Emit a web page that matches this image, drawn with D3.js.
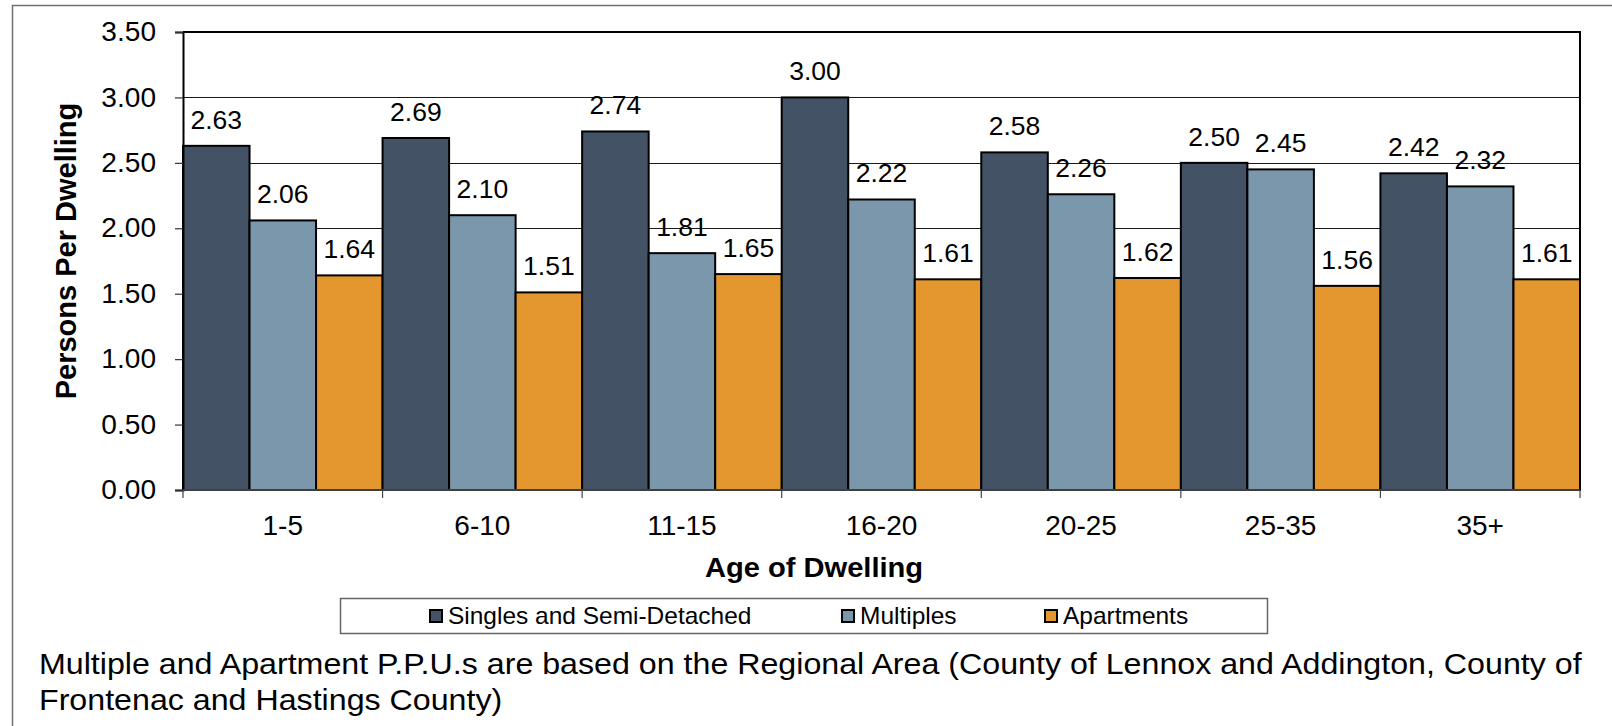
<!DOCTYPE html>
<html>
<head>
<meta charset="utf-8">
<script src="https://cdn.jsdelivr.net/npm/d3@7"></script>
<style>
  html, body { margin: 0; padding: 0; background: #fff; }
  svg { display: block; font-family: "Liberation Sans", Arial, sans-serif; }
</style>
</head>
<body>
<svg id="chart" width="1612" height="726"></svg>
<script>
// Persons per dwelling by age of dwelling and dwelling type
const categories = ["1-5", "6-10", "11-15", "16-20", "20-25", "25-35", "35+"];
const seriesNames = ["Singles and Semi-Detached", "Multiples", "Apartments"];
const singles    = [2.63, 2.69, 2.74, 3.00, 2.58, 2.50, 2.42];
const multiples  = [2.06, 2.10, 1.81, 2.22, 2.26, 2.45, 2.32];
const apartments = [1.64, 1.51, 1.65, 1.61, 1.62, 1.56, 1.61];
const yTicks = [0, 0.5, 1, 1.5, 2, 2.5, 3, 3.5];
const colors = ["#435365", "#7b97ab", "#e3972e"];
const caption = [
  "Multiple and Apartment P.P.U.s are based on the Regional Area (County of Lennox and Addington, County of",
  "Frontenac and Hastings County)"
];

const seriesValues = [singles, multiples, apartments];
const svg = d3.select("#chart");

const plot = { left: 183, right: 1580, top: 32, bottom: 490 };

const x0 = d3.scaleBand().domain(categories).range([plot.left, plot.right]).padding(0);
const x1 = d3.scaleBand().domain(seriesNames).range([0, x0.bandwidth()]).padding(0);
const y = d3.scaleLinear().domain([0, 3.5]).range([plot.bottom, plot.top]);

// outer frame
svg.append("path")
  .attr("d", `M12.5,726 V5.5 H1612`)
  .attr("fill", "none").attr("stroke", "#6f6f6f").attr("stroke-width", 1.5);

// horizontal gridlines
svg.append("g").selectAll("line")
  .data(yTicks.filter(t => t > 0 && t < 3.5))
  .join("line")
  .attr("x1", plot.left).attr("x2", plot.right)
  .attr("y1", d => Math.round(y(d)) + 0.5).attr("y2", d => Math.round(y(d)) + 0.5)
  .attr("stroke", "#1a1a1a").attr("stroke-width", 1);

// bars
const groups = svg.append("g").selectAll("g")
  .data(categories)
  .join("g")
  .attr("transform", d => `translate(${x0(d)},0)`);

const cells = (c, i) => seriesNames.map((s, k) => ({ s, k, v: seriesValues[k][i] }));

groups.selectAll("rect")
  .data(cells)
  .join("rect")
  .attr("x", d => x1(d.s))
  .attr("width", x1.bandwidth())
  .attr("y", d => y(d.v))
  .attr("height", d => y(0) - y(d.v))
  .attr("fill", d => colors[d.k])
  .attr("stroke", "#000").attr("stroke-width", 2);

// value labels
groups.selectAll("text")
  .data(cells)
  .join("text")
  .attr("x", d => x1(d.s) + x1.bandwidth() / 2)
  .attr("y", d => y(d.v) - 17)
  .attr("text-anchor", "middle")
  .attr("font-size", 26.5)
  .attr("fill", "#000")
  .text(d => d3.format(".2f")(d.v));

// plot frame: top and right edges
svg.append("path")
  .attr("d", `M${plot.left},${plot.top} H${plot.right} V${plot.bottom}`)
  .attr("fill", "none").attr("stroke", "#000").attr("stroke-width", 2);

// y axis
const yAxis = svg.append("g")
  .attr("transform", `translate(${plot.left},0)`)
  .call(d3.axisLeft(y).tickValues(yTicks).tickFormat(d3.format(".2f")).tickSize(8).tickPadding(19));
yAxis.select(".domain").attr("stroke", "#000").attr("stroke-width", 2);
yAxis.selectAll(".tick line").attr("stroke", "#333").attr("stroke-width", 1.2);
yAxis.selectAll(".tick text")
  .attr("x", 0)
  .attr("transform", "translate(-27,0) scale(1.04,1)")
  .attr("font-size", 27).attr("fill", "#000")
  .attr("font-family", "Liberation Sans, Arial, sans-serif");

// x axis with ticks on category boundaries
const xAxis = svg.append("g").attr("transform", `translate(0,${plot.bottom})`);
xAxis.append("line")
  .attr("x1", plot.left).attr("x2", plot.right)
  .attr("stroke", "#555").attr("stroke-width", 1.5);
const boundaries = categories.map(c => x0(c)).concat([x0(categories[categories.length - 1]) + x0.bandwidth()]);
xAxis.selectAll("line.tick")
  .data(boundaries)
  .join("line").attr("class", "tick")
  .attr("x1", d => d).attr("x2", d => d)
  .attr("y1", 0).attr("y2", 8)
  .attr("stroke", "#444").attr("stroke-width", 1.2);
xAxis.selectAll("text")
  .data(categories)
  .join("text")
  .attr("x", d => x0(d) + x0.bandwidth() / 2)
  .attr("y", 45)
  .attr("text-anchor", "middle")
  .attr("font-size", 28).attr("fill", "#000")
  .text(d => d);

// axis titles
svg.append("text")
  .attr("transform", "translate(814,577) scale(1.04,1)")
  .attr("text-anchor", "middle")
  .attr("font-size", 28).attr("font-weight", "bold")
  .text("Age of Dwelling");

svg.append("text")
  .attr("transform", "translate(76,251) rotate(-90)")
  .attr("text-anchor", "middle")
  .attr("font-size", 29).attr("font-weight", "bold")
  .text("Persons Per Dwelling");

// legend
const legend = svg.append("g");
legend.append("rect")
  .attr("x", 340.5).attr("y", 598.5).attr("width", 927).attr("height", 35)
  .attr("fill", "#fff").attr("stroke", "#666").attr("stroke-width", 1.5);
const legendX = [430, 842, 1045];
const items = legend.selectAll("g.item")
  .data(seriesNames)
  .join("g").attr("class", "item")
  .attr("transform", (d, i) => `translate(${legendX[i]},0)`);
items.append("rect")
  .attr("x", 0).attr("y", 610).attr("width", 12).attr("height", 12)
  .attr("fill", (d, i) => colors[i]).attr("stroke", "#000").attr("stroke-width", 2);
items.append("text")
  .attr("transform", "translate(18,624) scale(1.02,1)")
  .attr("font-size", 24).attr("fill", "#000")
  .text(d => d);

// caption note below the chart
svg.append("g").selectAll("text")
  .data(caption)
  .join("text")
  .attr("transform", (d, i) => `translate(39,${674 + i * 36}) scale(1.11,1)`)
  .attr("font-size", 29).attr("fill", "#000")
  .text(d => d);
</script>
</body>
</html>
